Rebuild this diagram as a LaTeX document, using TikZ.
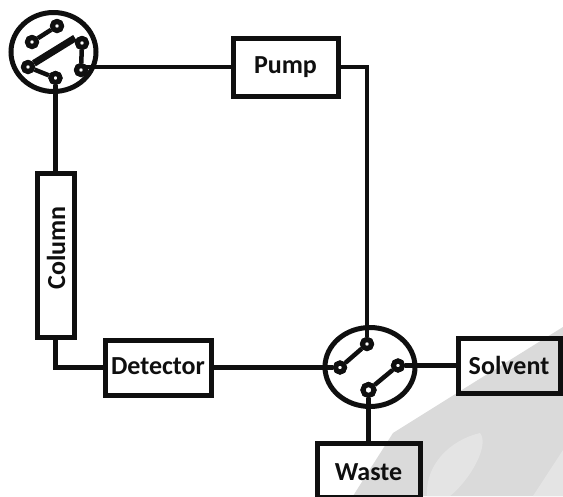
\documentclass[tikz,border=0pt]{standalone}
\usepackage{fontspec}
\usetikzlibrary{shapes.geometric}
\setmainfont{Carlito}
\definecolor{wm}{gray}{0.855}
\definecolor{wmb}{gray}{0.895}
\definecolor{ink}{gray}{0.06}
\begin{document}
\begin{tikzpicture}[x=1pt,y=-1pt,
 box/.style={draw=ink,line width=5pt,fill=none,text=ink,font=\bfseries\fontsize{26}{26}\selectfont,inner sep=0pt,outer sep=0pt},
 pipe/.style={draw=ink,line width=4.5pt},
 valve/.style={ellipse,draw=ink,line width=5pt,inner sep=0pt,outer sep=0pt,fill=none},
 port/.style={circle,draw=ink,line width=5pt,fill=white,inner sep=0pt,minimum size=9pt},
 link/.style={draw=ink,line width=4.5pt}]
\useasboundingbox (0,0) rectangle (563,496);
\fill[white] (0,0) rectangle (563,496);
% watermark
\fill[wm] (563,327) -- (457,393) -- (393,433) -- (353,496) -- (563,496) -- cycle;
\fill[wmb] (480,433) .. controls (450,440) and (425,465) .. (427,496) -- (450,496) .. controls (470,480) and (490,445) .. (480,433) -- cycle;
\fill[wmb] (563,450) -- (533,496) -- (563,496) -- cycle;
% boxes
\node[box,minimum width=105pt,minimum height=58pt] (pump) at (285.5,67) {\raisebox{-5pt}{Pump}};
\node[box,minimum width=37pt,minimum height=164pt] (column) at (55.5,255) {};
\node[font=\bfseries\fontsize{26}{26}\selectfont,text=ink,rotate=90] (columnlabel) at (56,248) {Column};
\node[box,minimum width=106pt,minimum height=55pt] (detector) at (158,367.5) {\raisebox{2pt}{Detector}};
\node[box,minimum width=102pt,minimum height=55pt] (solvent) at (509,365.5) {Solvent};
\node[box,minimum width=103pt,minimum height=54pt,text height=21pt] (waste) at (368.5,470) {Waste};
% valves
\node[valve,minimum width=85pt,minimum height=79pt] (v1) at (53.5,52) {};
\node[valve,minimum width=90pt,minimum height=79pt] (v2) at (370,367) {};
% ports valve 1
\node[port] (a1) at (57,26) {};
\node[port] (a2) at (32,42) {};
\node[port] (a3) at (82,43) {};
\node[port] (a4) at (81,70) {};
\node[port] (a5) at (55.5,78) {};
\node[port] (a6) at (28,67) {};
% ports valve 2
\node[port] (b1) at (367,344) {};
\node[port] (b2) at (340,367.5) {};
\node[port] (b3) at (398,365.5) {};
\node[port,minimum size=11pt] (b4) at (368.5,390) {};
% pipes
\draw[pipe] (pump.west) -- (pump.west -| a4);
\draw[pipe] (pump.east) -| (b1);
\draw[pipe] (a5) -- (column.north);
\draw[pipe] (column.south) |- (detector.west);
\draw[pipe] (detector.east) -- (b2);
\draw[pipe] (b3) -- (solvent.west);
\draw[pipe] (b4) -- (waste.north);
% links
\draw[link] (a1) -- (a2);
\draw[link,line width=7pt] (a6) -- (75,38);
\draw[link] (a3) -- (a4);
\draw[link] (a6) -- (a5);
\draw[link] (b1) -- (b2);
\draw[link] (b3) -- (b4);
% port faces above the links
\foreach \p in {a1,a2,a3,a4,a5,a6,b1,b2,b3}{\node[port] at (\p) {};}
\node[port,minimum size=11pt] at (b4) {};
\end{tikzpicture}
\end{document}
